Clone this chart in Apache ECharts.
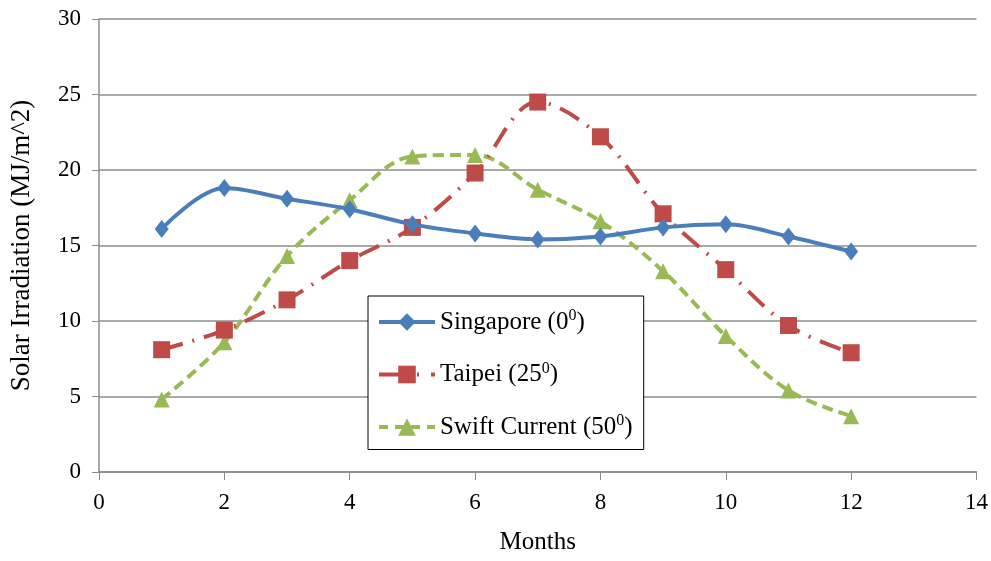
<!DOCTYPE html>
<html>
<head>
<meta charset="utf-8">
<script src="https://cdn.jsdelivr.net/npm/echarts@6/dist/echarts.min.js"></script>
<style>
  html, body { margin: 0; padding: 0; background: #fff; }
  #chart { width: 991px; height: 561px; }
</style>
</head>
<body>
<div id="chart"></div>
<script>
// Monthly mean solar irradiation (MJ/m^2) at three latitudes
const months = [1, 2, 3, 4, 5, 6, 7, 8, 9, 10, 11, 12];
const singapore = [16.1, 18.8, 18.1, 17.4, 16.4, 15.8, 15.4, 15.6, 16.2, 16.4, 15.6, 14.6];
const taipei = [8.1, 9.4, 11.4, 14.0, 16.2, 19.8, 24.5, 22.2, 17.1, 13.4, 9.7, 7.9];
const swiftCurrent = [4.8, 8.6, 14.3, 18.0, 20.9, 21.0, 18.7, 16.6, 13.3, 9.0, 5.4, 3.7];

const seriesNames = ['Singapore', 'Taipei', 'Swift Current'];
const latitudes = ['0', '25', '50'];

const FONT = '"Liberation Serif", "DejaVu Serif", serif';
const BLUE = '#4a7ebb';
const RED = '#be4b48';
const GREEN = '#98b954';
const TAIPEI_DASH = [22, 10, 2, 10];
const SWIFT_DASH = [11, 6];

function pairs(vals) {
  return months.map((m, i) => [m, vals[i]]);
}

const chart = echarts.init(document.getElementById('chart'), null, { renderer: 'canvas' });

chart.setOption({
  animation: false,
  backgroundColor: '#ffffff',
  grid: { left: 99, right: 12, top: 19, bottom: 89 },
  legend: {
    orient: 'vertical',
    left: 368,
    top: 296,
    padding: [12, 11, 10, 9],
    itemWidth: 56,
    itemHeight: 22,
    itemGap: 26,
    borderColor: '#000',
    borderWidth: 1,
    backgroundColor: '#fff',
    data: [
      { name: 'Singapore', itemStyle: { color: BLUE }, lineStyle: { color: BLUE, width: 4, type: 'solid' } },
      { name: 'Taipei', itemStyle: { color: RED }, lineStyle: { color: RED, width: 4, type: [26, 12, 2, 12] } },
      { name: 'Swift Current', itemStyle: { color: GREEN }, lineStyle: { color: GREEN, width: 4, type: [9, 7] } }
    ],
    formatter: function (name) {
      const i = seriesNames.indexOf(name);
      return '{n|' + name + ' (' + latitudes[i] + '}{s|0}{n|)}';
    },
    textStyle: {
      fontFamily: FONT,
      fontSize: 25,
      color: '#000',
      rich: {
        n: { fontFamily: FONT, fontSize: 25, color: '#000', lineHeight: 28 },
        s: { fontFamily: FONT, fontSize: 16, color: '#000', lineHeight: 14, verticalAlign: 'top' }
      }
    }
  },
  xAxis: {
    type: 'value',
    min: 0,
    max: 14,
    interval: 2,
    name: 'Months',
    nameLocation: 'middle',
    nameGap: 58,
    nameTextStyle: { fontFamily: FONT, fontSize: 25, color: '#000' },
    axisLine: { show: true, onZero: false, lineStyle: { color: '#8c8c8c', width: 1.5 } },
    axisTick: { show: true, length: 8, lineStyle: { color: '#8c8c8c' } },
    axisLabel: { margin: 19, fontFamily: FONT, fontSize: 23, color: '#000' },
    splitLine: { show: false }
  },
  yAxis: {
    type: 'value',
    min: 0,
    max: 30,
    interval: 5,
    name: 'Solar Irradiation (MJ/m^2)',
    nameLocation: 'middle',
    nameGap: 64,
    nameTextStyle: { fontFamily: FONT, fontSize: 27, color: '#000' },
    axisLine: { show: true, lineStyle: { color: '#8c8c8c', width: 1.5 } },
    axisTick: { show: true, length: 7, lineStyle: { color: '#8c8c8c' } },
    axisLabel: { margin: 18, fontFamily: FONT, fontSize: 23, color: '#000' },
    splitLine: { show: true, lineStyle: { color: '#8c8c8c', width: 1.5 } }
  },
  series: [
    {
      name: 'Singapore',
      type: 'line',
      smooth: 0.35,
      data: pairs(singapore),
      symbol: 'diamond',
      symbolSize: [14, 18],
      itemStyle: { color: BLUE },
      lineStyle: { color: BLUE, width: 4, type: 'solid' },
      z: 3
    },
    {
      name: 'Taipei',
      type: 'line',
      smooth: 0.35,
      data: pairs(taipei),
      symbol: 'rect',
      symbolSize: 17,
      itemStyle: { color: RED },
      lineStyle: { color: RED, width: 4, type: TAIPEI_DASH },
      z: 2
    },
    {
      name: 'Swift Current',
      type: 'line',
      smooth: 0.35,
      data: pairs(swiftCurrent),
      symbol: 'triangle',
      symbolSize: [16, 16],
      itemStyle: { color: GREEN },
      lineStyle: { color: GREEN, width: 4, type: SWIFT_DASH },
      z: 1
    }
  ]
});
</script>
</body>
</html>
